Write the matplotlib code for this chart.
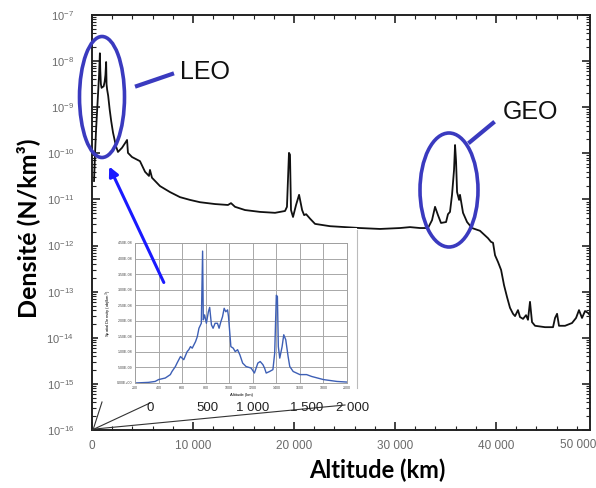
import numpy as np
import matplotlib
matplotlib.use("Agg")
import matplotlib.pyplot as plt
from matplotlib.patches import Ellipse, Rectangle, FancyArrowPatch
from matplotlib.ticker import FixedLocator, MultipleLocator, LogLocator, NullFormatter

plt.rcParams['font.family'] = ['Liberation Sans', 'DejaVu Sans']

# main curve: altitude (km) and log10 of density (N/km3)
alt_km = [200, 300, 400, 500, 600, 700, 780, 820, 880, 950, 1050, 1150, 1250, 1330, 1400,
          1440, 1500, 1600, 1750, 1900, 2080, 2380, 2570, 2970, 3270, 3470, 3560, 3960,
          4750, 5250, 5640, 5740, 5940, 6730, 7720, 8710, 9700, 10690, 12180, 13460, 13760,
          14160, 15150, 16630, 18120, 19110, 19300, 19500, 19600, 19700, 19900, 20200,
          20500, 20800, 21000, 21200, 21600, 22080, 23560, 25050, 26530, 28510, 30490,
          31480, 32470, 33260, 33660, 33960, 34250, 34550, 35050, 35240, 35440, 35640,
          35840, 35940, 36040, 36140, 36340, 36430, 36730, 37130, 37620, 38410, 39200,
          39500, 39700, 39900, 40200, 40500, 40790, 41090, 41380, 41680, 41880, 42170,
          42370, 42670, 42970, 43160, 43360, 43560, 43860, 44850, 45640, 45840, 46040,
          46230, 46830, 47520, 47920, 48210, 48510, 48810, 49100, 49300]
log_density = [-10.6, -10.0, -9.5, -9.1, -8.7, -8.3, -7.83, -8.2, -8.5, -8.58, -8.56, -8.55,
               -8.45, -8.3, -8.02, -8.5, -8.62, -8.75, -9.05, -9.3, -9.55, -9.85, -9.97,
               -9.88, -9.78, -9.71, -9.99, -10.08, -10.17, -10.40, -10.49, -10.36, -10.53,
               -10.71, -10.84, -10.95, -11.01, -11.06, -11.10, -11.12, -11.08, -11.16,
               -11.23, -11.27, -11.29, -11.25, -11.16, -9.99, -10.03, -11.23, -11.38,
               -11.12, -10.90, -11.23, -11.34, -11.32, -11.42, -11.53, -11.58, -11.60,
               -11.62, -11.64, -11.62, -11.60, -11.62, -11.62, -11.45, -11.16, -11.34,
               -11.51, -11.49, -11.32, -11.27, -10.90, -10.36, -9.82, -10.17, -10.84,
               -11.01, -10.90, -11.29, -11.49, -11.62, -11.68, -11.84, -11.92, -11.94,
               -12.21, -12.36, -12.53, -12.86, -13.12, -13.35, -13.48, -13.53, -13.40,
               -13.55, -13.59, -13.51, -13.61, -13.22, -13.66, -13.74, -13.77, -13.77,
               -13.57, -13.48, -13.74, -13.74, -13.68, -13.57, -13.40, -13.57, -13.42,
               -13.46, -13.51]

# inset curve: altitude (km) and spatial density (1e-8 obj/km3)
inset_km = [200, 314, 371, 400, 457, 500, 514, 543, 557, 586, 614, 643, 657, 671, 686, 714,
            729, 743, 763, 774, 780, 791, 806, 823, 834, 849, 863, 880, 900, 914, 929, 943,
            957, 971, 986, 994, 1014, 1034, 1051, 1071, 1091, 1114, 1143, 1186, 1214, 1243,
            1263, 1286, 1300, 1314, 1343, 1371, 1386, 1400, 1409, 1417, 1429, 1449, 1463,
            1480, 1500, 1514, 1543, 1600, 1657, 1700, 1800, 1914, 2000]
inset_dens = [0.0, 0.02, 0.05, 0.11, 0.16, 0.27, 0.37, 0.53, 0.64, 0.85, 0.75, 1.01, 1.07,
              1.17, 1.12, 1.33, 1.49, 1.76, 1.92, 4.24, 2.03, 2.19, 1.92, 2.29, 2.43, 1.87,
              1.76, 1.92, 1.92, 1.76, 1.97, 2.13, 2.40, 2.29, 2.35, 2.13, 1.17, 1.12, 1.01,
              1.07, 0.90, 0.64, 0.53, 0.48, 0.32, 0.64, 0.69, 0.59, 0.48, 0.32, 0.37, 0.43,
              0.96, 2.82, 2.78, 1.17, 0.80, 1.17, 1.55, 1.39, 0.85, 0.53, 0.37, 0.27, 0.27,
              0.21, 0.11, 0.05, 0.03]

x_ticks = [0, 10000, 20000, 30000, 40000]
x_ticklabels = ["0", "10 000", "20 000", "30 000", "40 000"]
y_exponents = list(range(-16, -6))

W, H = 596, 488
fig = plt.figure(figsize=(W / 100, H / 100), dpi=100)

# ---- main chart
ax = fig.add_axes([92 / W, 1 - 430 / H, 498 / W, 415 / H], zorder=0)
ax.plot(alt_km, 10.0 ** np.array(log_density), color='#111111', lw=1.3)
ax.set_yscale('log')
ax.set_xlim(0, 49300)
ax.set_ylim(1e-16, 1e-7)
ax.set_xticks(x_ticks)
ax.set_xticklabels(x_ticklabels)
ax.xaxis.set_minor_locator(MultipleLocator(2000))
ax.yaxis.set_major_locator(FixedLocator([10.0 ** e for e in y_exponents]))
ax.set_yticklabels([r'$\mathregular{10^{%d}}$' % e for e in y_exponents])
ax.yaxis.set_minor_locator(LogLocator(base=10, subs=np.arange(2, 10), numticks=30))
ax.yaxis.set_minor_formatter(NullFormatter())
ax.tick_params(which='both', direction='in', top=True, right=True, color='#222222')
ax.tick_params(which='major', length=6, width=1.2)
ax.tick_params(which='minor', length=3, width=0.8)
ax.tick_params(axis='y', pad=13, labelsize=8, labelcolor='#6a6a6a')
ax.tick_params(axis='x', pad=7, labelsize=8.5, labelcolor='#6a6a6a')
for s in ax.spines.values():
    s.set_linewidth(1.4)
    s.set_color('#222222')

fig.text(578 / W, 1 - 445 / H, "50 000", ha='center', va='center', fontsize=8.5, color='#6a6a6a')

fig.text(377 / W, 1 - 470 / H, "Altitude (km)", ha='center', va='center',
         fontsize=17, fontweight='bold', family=['Lato', 'DejaVu Sans'])
fig.text(28 / W, 1 - 228 / H, "Densité (N/km³)", ha='center', va='center', rotation=90,
         fontsize=18, fontweight='bold', family=['Lato', 'DejaVu Sans'])

# white backing for the inset
fig.add_artist(Rectangle((98 / W, 1 - 420 / H), 259 / W, 192 / H, transform=fig.transFigure,
                         facecolor='white', edgecolor='none', zorder=1))

# ---- inset chart
ins = fig.add_axes([135 / W, 1 - 383 / H, 212 / W, 140 / H], zorder=2)
ins.plot(inset_km, np.array(inset_dens) * 1e-8, color='#3d5fb5', lw=1.0)
ins.set_xlim(200, 2000)
ins.set_ylim(0, 4.5e-8)
ins.set_xticks(np.arange(200, 2001, 200))
ins.set_yticks(np.arange(0, 4.51e-8, 5e-9))
ins.set_yticklabels(['{:.2E}'.format(v) for v in np.arange(0, 4.51e-8, 5e-9)])
ins.tick_params(length=0, labelsize=2.6, pad=2, labelcolor='#444444')
ins.grid(True, color='#a8a8a8', lw=0.7)
ins.set_axisbelow(True)
for s in ins.spines.values():
    s.set_color('#a0a0a0')
    s.set_linewidth(0.7)
ins.set_xlabel("Altitude (km)", fontsize=3, labelpad=2)
ins.set_ylabel("Spatial Density (obj/km$^3$)", fontsize=3, labelpad=2)

# ---- annotations in pixel coordinates
ov = fig.add_axes([0, 0, 1, 1], zorder=3)
ov.set_xlim(0, W)
ov.set_ylim(H, 0)
ov.axis('off')
ov.patch.set_alpha(0)

ov.plot([357, 357], [230, 388], color='#bbbbbb', lw=0.8)
ov.plot([92, 150], [430, 403], color='#333333', lw=0.8)
ov.plot([95, 345], [429, 405], color='#333333', lw=0.8)
ov.plot([93, 102], [430, 402], color='#333333', lw=0.8)
for lab, xp in zip(["0", "500", "1 000", "1 500", "2 000"], [150, 207, 253, 307, 353]):
    ov.text(xp, 408, lab, ha='center', va='center', fontsize=9.5, color='#222222')

blue = '#3a3abf'
ov.add_patch(Ellipse((102, 97), 45, 121, fill=False, edgecolor=blue, lw=2.6))
ov.add_patch(Ellipse((449, 190), 58, 114, fill=False, edgecolor=blue, lw=2.6))
ov.plot([137, 172], [86, 74], color=blue, lw=3)
ov.plot([470, 493], [142, 123], color=blue, lw=3)
ov.text(180, 72, "LEO", ha='left', va='center', fontsize=18, color='#111111')
ov.text(503, 112, "GEO", ha='left', va='center', fontsize=18, color='#111111')
ov.add_patch(FancyArrowPatch((165, 285), (108, 164), arrowstyle='-|>', mutation_scale=14,
                             color='#1a1aff', lw=2.2))

fig.savefig("out.png", dpi=100)
